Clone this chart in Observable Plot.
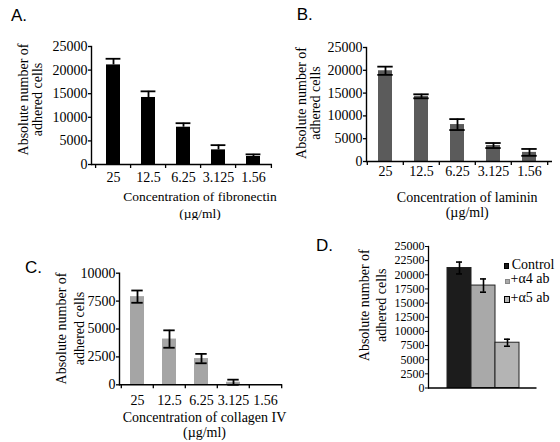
<!DOCTYPE html>
<html><head><meta charset="utf-8">
<script src="https://cdn.jsdelivr.net/npm/d3@7"></script>
<script src="https://cdn.jsdelivr.net/npm/@observablehq/plot@0.6"></script>
<style>
body{margin:0;background:#fff}
#root{position:relative;width:560px;height:442px;overflow:hidden;background:#fff;font-family:'Liberation Serif','Times New Roman',serif;color:#000}
#root svg, #root svg text{font-family:'Liberation Serif','Times New Roman',serif !important}
.panel{position:absolute}
.tag{position:absolute;font-family:'Liberation Sans',Arial,sans-serif;font-size:17px;line-height:17px;color:#000}
.leg{position:absolute;font-size:14px;line-height:14px;white-space:nowrap}
.sw{position:absolute;box-sizing:border-box}
</style>
</head><body>
<div id="root"></div>
<script>
// ---- data ----
const concentrations = ["25", "12.5", "6.25", "3.125", "1.56"];
const fibronectinMean = [21100, 14200, 7900, 3100, 1700];
const fibronectinErr = [1300, 1300, 850, 1000, 450];
const lamininMean = [19900, 14300, 8100, 3500, 2000];
const lamininErr = [900, 440, 1200, 550, 750];
const collagenMean = [7900, 4100, 2350, 230, 20];
const collagenErr = [550, 780, 420, 230, 0];
const antibodyGroups = ["Control", "+α4 ab", "+α5 ab"];
const antibodyMean = [21200, 18100, 8000];
const antibodyErr = [1050, 1170, 620];
const ticks25k = [0, 5000, 10000, 15000, 20000, 25000];
const ticks10k = [0, 2500, 5000, 7500, 10000];
const ticksD = [0, 2500, 5000, 7500, 10000, 12500, 15000, 17500, 20000, 22500, 25000];
const yLabel = "Absolute number of\nadhered cells";
const xTitleA = "Concentration of fibronectin\n(µg/ml)";
const xTitleB = "Concentration of laminin\n(µg/ml)";
const xTitleC = "Concentration of collagen IV\n(µg/ml)";
const antibodyColors = ["#1c1c1c", "#a9a9a9", "#b4b4b4"];

const serif = "'Liberation Serif','Times New Roman',serif";
const root = document.getElementById("root");

function place(node, left, top) {
  const d = document.createElement("div");
  d.className = "panel";
  d.style.left = left + "px";
  d.style.top = top + "px";
  d.appendChild(node);
  root.appendChild(d);
}

function concPanel(o) {
  const data = concentrations.map((c, i) => ({c, v: o.mean[i], e: o.err[i]}));
  const plotW = o.width - o.ml - o.mr - o.il - o.ir;
  const step = plotW / concentrations.length;
  const cap = (step - o.capW) / 2;
  const withErr = data.filter(d => d.e > 0);
  const marks = [
    Plot.barY(data, {x: "c", y: "v", fill: o.fill}),
    Plot.ruleX(withErr, {x: "c", y1: o.oneSided ? "v" : d => d.v - d.e, y2: d => d.v + d.e, stroke: "#000", strokeWidth: 1.8}),
    Plot.tickY(withErr, {x: "c", y: d => d.v + d.e, insetLeft: cap, insetRight: cap, stroke: "#000", strokeWidth: 1.8})
  ];
  if (!o.oneSided) marks.push(Plot.tickY(withErr, {x: "c", y: d => d.v - d.e, insetLeft: cap, insetRight: cap, stroke: "#000", strokeWidth: 1.8}));
  marks.push(
    Plot.ruleY([0], {stroke: "#000", strokeWidth: 1.4}),
    Plot.frame({anchor: "left", stroke: "#000", strokeWidth: 1.4}),
    Plot.axisY({ticks: o.yTicks, tickSize: 3, tickPadding: 1, tickFormat: d => String(d), label: null, strokeWidth: 1.3, fontSize: 14, fontFamily: serif}),
    Plot.axisX({tickSize: 0, tickPadding: o.xPad, label: null, fontSize: 14, fontFamily: serif}),
    Plot.axisX({tickSize: 4, tickFormat: () => "", label: null, dx: -step / 2, strokeWidth: 1.3}),
    Plot.axisX({ticks: [concentrations[concentrations.length - 1]], tickSize: 4, tickFormat: () => "", label: null, dx: step / 2, strokeWidth: 1.3}),
    Plot.text([yLabel], {text: d => d, frameAnchor: "left", rotate: -90, textAnchor: "middle", lineAnchor: "middle", dx: o.yLabDx, dy: o.yLabDy, lineHeight: o.yLH, fontSize: 14, fontFamily: serif}),
    Plot.text([o.title], {text: d => d, frameAnchor: "bottom", textAnchor: "middle", lineAnchor: "middle", dx: o.tDx, dy: o.tDy, lineHeight: o.tLH, fontSize: o.tFs, fontFamily: serif})
  );
  return Plot.plot({
    width: o.width, height: o.height,
    marginLeft: o.ml, marginRight: o.mr, marginTop: o.mt, marginBottom: o.mb,
    x: {type: "band", domain: concentrations, paddingInner: o.pad, paddingOuter: o.pad / 2, insetLeft: o.il, insetRight: o.ir},
    y: {domain: o.yDomain},
    style: {fontFamily: serif, fontSize: "14px", background: "transparent", color: "#000"},
    marks
  });
}

place(concPanel({
  mean: fibronectinMean, err: fibronectinErr, oneSided: true, fill: "#000",
  width: 280, height: 220, ml: 91, mr: 8, mt: 46, mb: 56, il: 2, ir: 0,
  pad: 0.61, capW: 7, yTicks: ticks25k, yDomain: [0, 25000], xPad: 8,
  yLabDx: -61, yLabDy: -6, yLH: 1.0, title: xTitleA, tDx: 18, tDy: 39.5, tLH: 1.24, tFs: 13.5
}), 0, 0);

place(concPanel({
  mean: lamininMean, err: lamininErr, oneSided: false, fill: "#5b5b5b",
  width: 280, height: 220, ml: 86, mr: 8, mt: 47, mb: 59, il: 0, ir: 4,
  pad: 0.61, capW: 7, yTicks: ticks25k, yDomain: [0, 25000], xPad: 5,
  yLabDx: -58, yLabDy: -1.5, yLH: 1.02, title: xTitleB, tDx: 7.7, tDy: 43.5, tLH: 1.07, tFs: 14
}), 280, 0);

place(concPanel({
  mean: collagenMean, err: collagenErr, oneSided: false, fill: "#a5a5a5",
  width: 300, height: 222, ml: 119, mr: 18, mt: 52.7, mb: 57.7, il: 1, ir: 0,
  pad: 0.57, capW: 7, yTicks: ticks10k, yDomain: [0, 10000], xPad: 10,
  yLabDx: -50, yLabDy: -0.5, yLH: 1.29, title: xTitleC, tDx: 3.5, tDy: 40, tLH: 1.07, tFs: 14
}), 0, 220);

// Panel D
(function () {
  const data = antibodyGroups.map((g, i) => ({g, v: antibodyMean[i], e: antibodyErr[i]}));
  const W = 260, ml = 128, mr = 23.5, il = 18.7, ir = 17.8;
  const step = (W - ml - mr - il - ir) / antibodyGroups.length;
  const cap = (step - 6) / 2;
  const svg = Plot.plot({
    width: W, height: 222,
    marginLeft: ml, marginRight: mr, marginTop: 26, marginBottom: 54.5,
    x: {type: "band", domain: antibodyGroups, padding: 0, insetLeft: il, insetRight: ir},
    y: {domain: [0, 25000]},
    color: {domain: antibodyGroups, range: antibodyColors},
    style: {fontFamily: serif, fontSize: "12px", background: "transparent", color: "#000"},
    marks: [
      Plot.barY(data, {x: "g", y: "v", fill: "g", stroke: "#222", strokeWidth: 1}),
      Plot.ruleX(data, {x: "g", y1: d => d.v - d.e, y2: d => d.v + d.e, stroke: "#000", strokeWidth: 1.6}),
      Plot.tickY(data, {x: "g", y: d => d.v + d.e, insetLeft: cap, insetRight: cap, stroke: "#000", strokeWidth: 1.6}),
      Plot.tickY(data, {x: "g", y: d => d.v - d.e, insetLeft: cap, insetRight: cap, stroke: "#000", strokeWidth: 1.6}),
      Plot.ruleY([0], {stroke: "#000", strokeWidth: 1.3}),
      Plot.frame({anchor: "left", stroke: "#000", strokeWidth: 1.3}),
      Plot.axisY({ticks: ticksD, tickSize: 3, tickPadding: 1, tickFormat: d => String(d), label: null, fontSize: 12, fontFamily: serif}),
      Plot.axisX({ticks: [], label: null}),
      Plot.text([yLabel], {text: d => d, frameAnchor: "left", rotate: -90, textAnchor: "middle", lineAnchor: "middle", dx: -56.5, dy: -12, lineHeight: 1.21, fontSize: 14, fontFamily: serif})
    ]
  });
  place(svg, 300, 220);
})();

// Panel tags
[["A.", 11, 6.6], ["B.", 296.7, 6.3], ["C.", 25, 259], ["D.", 316, 237.3]].forEach(([t, x, y]) => {
  const d = document.createElement("div");
  d.className = "tag"; d.textContent = t;
  d.style.left = x + "px"; d.style.top = y + "px";
  root.appendChild(d);
});

// Legend for D
const legendSpec = [
  {top: 257.6, tx: 511.7, sw: {left: 504, top: 263, w: 5, h: 6, bg: antibodyColors[0], border: "1px solid #000"}},
  {top: 272.3, tx: 510.5, sw: {left: 505, top: 278.5, w: 5, h: 5, bg: antibodyColors[1], border: "1px solid #888"}},
  {top: 291, tx: 510.5, sw: {left: 503.5, top: 295.5, w: 6, h: 7, bg: antibodyColors[2], border: "1.5px solid #000"}}
];
legendSpec.forEach((s, i) => {
  const sw = document.createElement("div");
  sw.className = "sw";
  Object.assign(sw.style, {left: s.sw.left + "px", top: s.sw.top + "px", width: s.sw.w + "px", height: s.sw.h + "px", background: s.sw.bg, border: s.sw.border});
  root.appendChild(sw);
  const t = document.createElement("div");
  t.className = "leg"; t.textContent = antibodyGroups[i];
  t.style.left = s.tx + "px"; t.style.top = s.top + "px";
  root.appendChild(t);
});
</script>
</body></html>
